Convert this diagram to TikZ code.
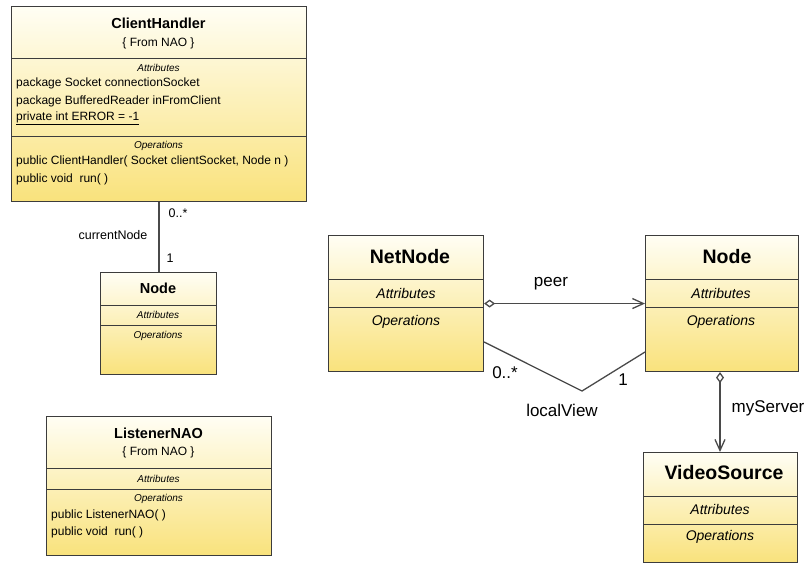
\documentclass[tikz,border=0pt]{standalone}
\usepackage{fontspec}
\setmainfont{Liberation Sans}
\usepackage{tikz}
\usetikzlibrary{arrows.meta,calc}

\definecolor{boxtop}{HTML}{FFFEF4}
\definecolor{boxbottom}{HTML}{F9E27C}
\definecolor{boxline}{HTML}{3C3C3C}
\definecolor{linkline}{HTML}{4A4A4A}

\begin{document}
\begin{tikzpicture}[x=1pt,y=-1pt,
		classbox/.style={draw=boxline,line width=1.1pt,
			top color=boxtop,bottom color=boxbottom,
			anchor=north west,inner sep=0pt},
		sepline/.style={draw=boxline,line width=1pt},
		bigtitle/.style={font=\bfseries\fontsize{14.5}{16}\selectfont,inner sep=0pt},
		hugetitle/.style={font=\bfseries\fontsize{19.5}{22}\selectfont,inner sep=0pt},
		stereo/.style={font=\fontsize{12}{14}\selectfont,inner sep=0pt},
		smallpart/.style={font=\itshape\fontsize{10}{12}\selectfont,inner sep=0pt},
		widepart/.style={font=\itshape\fontsize{14}{16}\selectfont,inner sep=0pt},
		member/.style={font=\fontsize{12}{14}\selectfont,anchor=west,inner sep=0pt},
		smalllabel/.style={font=\fontsize{12.5}{14}\selectfont,inner sep=0pt},
		biglabel/.style={font=\fontsize{17}{19}\selectfont,inner sep=0pt},
		link/.style={draw=linkline,line width=1.3pt},
		aggr/.style={link,{Diamond[fill=white,length=11pt,width=8pt]}-{Straight Barb[length=11pt,width=10pt]}}]

	\useasboundingbox (0,0) rectangle (810,563);

	% ClientHandler
	\node[classbox,minimum width=295pt,minimum height=195pt] (handler) at (11,6) {};
	\draw[sepline] (handler.west |- 0,58) -- (handler.east |- 0,58);
	\draw[sepline] (handler.west |- 0,136) -- (handler.east |- 0,136);
	\node[bigtitle] (handlername) at (158.5,23) {ClientHandler};
	\node[stereo] (handlerfrom) at (158.5,43) {\{ From NAO \}};
	\node[smallpart] (handlerattr) at (158.5,68) {Attributes};
	\node[member] (handlera1) at (16,83) {package Socket connectionSocket};
	\node[member] (handlera2) at (16,101) {package BufferedReader inFromClient};
	\node[member] (handlera3) at (16,118) {\underline{private int ERROR = -1}};
	\node[smallpart] (handlerops) at (158.5,146) {Operations};
	\node[member] (handlero1) at (16,161) {public ClientHandler( Socket clientSocket, Node n )};
	\node[member] (handlero2) at (16,179) {public void\ \ run( )};

	% Node (left)
	\node[classbox,minimum width=116pt,minimum height=102pt] (nodeleft) at (100,272) {};
	\draw[sepline] (nodeleft.west |- 0,305) -- (nodeleft.east |- 0,305);
	\draw[sepline] (nodeleft.west |- 0,325) -- (nodeleft.east |- 0,325);
	\node[bigtitle] (nodeleftname) at (158,288) {Node};
	\node[smallpart] (nodeleftattr) at (158,315) {Attributes};
	\node[smallpart] (nodeleftops) at (158,336) {Operations};

	% ListenerNAO
	\node[classbox,minimum width=225pt,minimum height=139pt] (listener) at (46,416) {};
	\draw[sepline] (listener.west |- 0,468) -- (listener.east |- 0,468);
	\draw[sepline] (listener.west |- 0,489) -- (listener.east |- 0,489);
	\node[bigtitle] (listenername) at (158.5,433) {ListenerNAO};
	\node[stereo] (listenerfrom) at (158.5,452) {\{ From NAO \}};
	\node[smallpart] (listenerattr) at (158.5,479) {Attributes};
	\node[smallpart] (listenerops) at (158.5,499) {Operations};
	\node[member] (listenero1) at (51,515) {public ListenerNAO( )};
	\node[member] (listenero2) at (51,532) {public void\ \ run( )};

	% NetNode
	\node[classbox,minimum width=155pt,minimum height=136pt] (netnode) at (328,235) {};
	\draw[sepline] (netnode.west |- 0,279) -- (netnode.east |- 0,279);
	\draw[sepline] (netnode.west |- 0,307) -- (netnode.east |- 0,307);
	\node[hugetitle] (netnodename) at (410,257) {NetNode};
	\node[widepart] (netnodeattr) at (406,293) {Attributes};
	\node[widepart] (netnodeops) at (406,322) {Operations};

	% Node (right)
	\node[classbox,minimum width=153pt,minimum height=136pt] (noderight) at (645,235) {};
	\draw[sepline] (noderight.west |- 0,279) -- (noderight.east |- 0,279);
	\draw[sepline] (noderight.west |- 0,307) -- (noderight.east |- 0,307);
	\node[hugetitle] (noderightname) at (727,257) {Node};
	\node[widepart] (noderightattr) at (721,293) {Attributes};
	\node[widepart] (noderightops) at (721,322) {Operations};

	% VideoSource
	\node[classbox,minimum width=154pt,minimum height=110pt] (video) at (643,452) {};
	\draw[sepline] (video.west |- 0,496) -- (video.east |- 0,496);
	\draw[sepline] (video.west |- 0,524) -- (video.east |- 0,524);
	\node[hugetitle] (videoname) at (724,473) {VideoSource};
	\node[widepart] (videoattr) at (720,509) {Attributes};
	\node[widepart] (videoops) at (720,537) {Operations};

	% associations
	\draw[link] (handler.south) -- (handler.south |- nodeleft.north);
	\node[smalllabel] (handlermult) at (178,213) {0..*};
	\node[smalllabel] (handlerrole) at (113,235) {currentNode};
	\node[smalllabel] (nodeleftmult) at (170,258) {1};

	\draw[aggr] (netnode.east) -- (noderight.west);
	\node[biglabel] (peerlabel) at (551,284) {peer};

	\coordinate (viewbend) at (582,391);
	\draw[link] (netnode.east |- 0,342) -- (viewbend) -- (noderight.west |- 0,352);
	\node[biglabel] (viewmany) at (505,373) {0..*};
	\node[biglabel] (viewone) at (623,380) {1};
	\node[biglabel] (viewlabel) at (562,410) {localView};

	\draw[aggr] (noderight.south -| 720,0) -- (video.north -| 720,0);
	\node[biglabel] (serverlabel) at (768,408) {myServer};

\end{tikzpicture}
\end{document}
